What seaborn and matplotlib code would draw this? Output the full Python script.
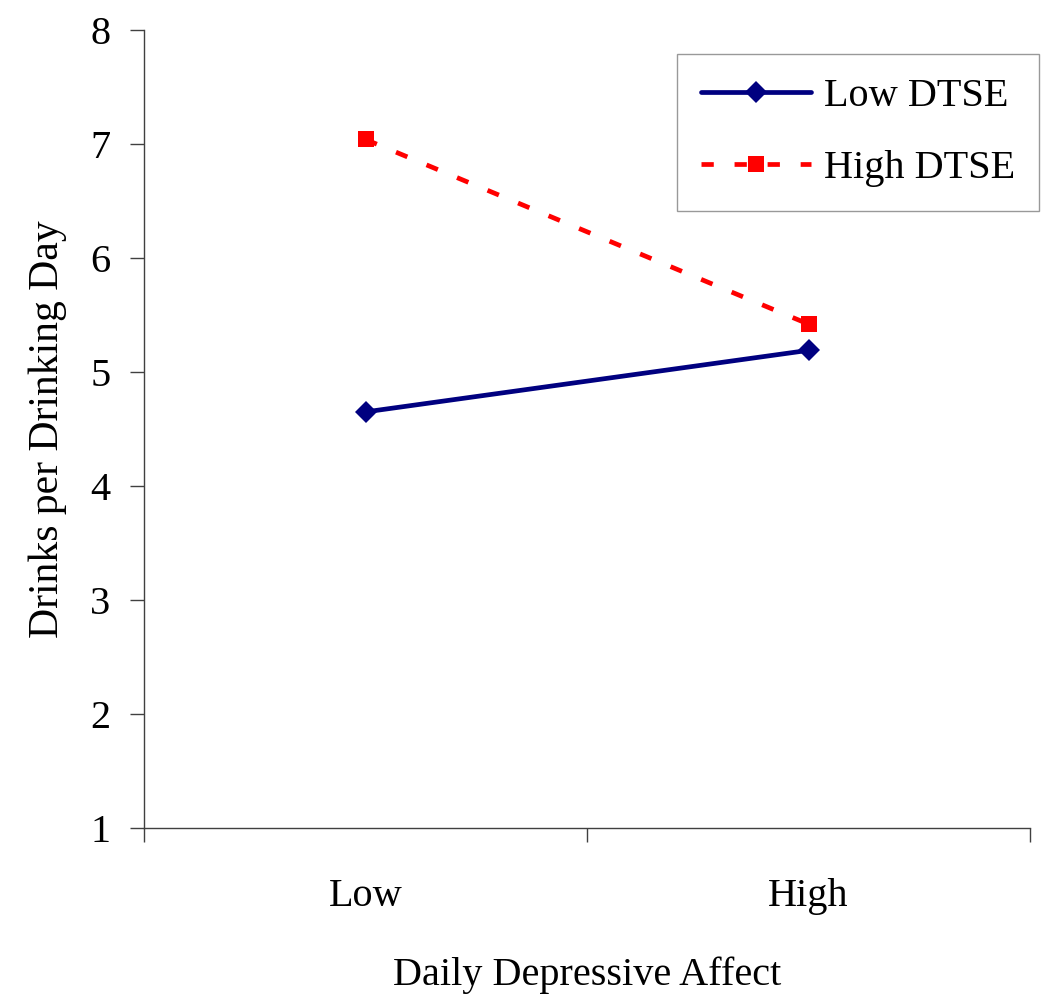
import matplotlib
matplotlib.use("Agg")
import matplotlib.pyplot as plt
import seaborn as sns
import pandas as pd

categories = ["Low", "High"]
low_dtse = [4.65, 5.19]
high_dtse = [7.04, 5.42]
series_names = ["Low DTSE", "High DTSE"]
y_ticks = [1, 2, 3, 4, 5, 6, 7, 8]

sns.set_theme(style="white")
plt.rcParams["font.family"] = ["Liberation Serif", "DejaVu Serif"]
plt.rcParams["text.color"] = "black"
plt.rcParams["axes.labelcolor"] = "black"
plt.rcParams["xtick.color"] = "black"
plt.rcParams["ytick.color"] = "black"

df_low = pd.DataFrame({"affect": categories, "drinks": low_dtse})
df_high = pd.DataFrame({"affect": categories, "drinks": high_dtse})

fig = plt.figure(figsize=(10.5, 10.06), dpi=100)
ax = fig.add_axes([144/1050, 1 - 828/1006, (1030-144)/1050, (828-30)/1006])

sns.lineplot(data=df_low, x="affect", y="drinks", ax=ax, color="#000080",
             lw=3.4, marker="D", markersize=11, markeredgewidth=0,
             label=series_names[0], sort=False)
sns.lineplot(data=df_high, x="affect", y="drinks", ax=ax, color="#FF0000",
             lw=3.4, marker="s", markersize=12, markeredgewidth=0,
             label=series_names[1], sort=False)
ax.lines[1].set_dashes((2.6, 4.4))

ax.set_xlim(-0.5, 1.5)
ax.set_ylim(1, 8)
ax.set_yticks(y_ticks)
ax.set_xticks([0, 1])
ax.set_xticklabels(categories)
ax.set_xticks([-0.5, 0.5, 1.5], minor=True)

for s in ["top", "right"]:
    ax.spines[s].set_visible(False)
for s in ["left", "bottom"]:
    ax.spines[s].set_color("#404040")
    ax.spines[s].set_linewidth(1)

ax.tick_params(axis="y", which="major", direction="out", length=10, width=1,
               color="#404040", left=True, pad=14, labelsize=29, labelcolor="black")
ax.tick_params(axis="x", which="major", length=0, pad=36, labelsize=29, labelcolor="black")
ax.tick_params(axis="x", which="minor", direction="out", length=10, width=1,
               color="#404040", bottom=True)

ax.set_ylabel("Drinks per Drinking Day", fontsize=30, labelpad=17, color="black")
ax.set_xlabel("Daily Depressive Affect", fontsize=29, labelpad=30, color="black")

leg = ax.legend(loc="upper right", bbox_to_anchor=(1039/1050, 1 - 54/1006),
                bbox_transform=fig.transFigure, fontsize=29, frameon=True,
                fancybox=False, edgecolor="#808080", handlelength=2.75,
                handletextpad=0.3, labelspacing=0.85, borderpad=0.6,
                borderaxespad=0)
leg.get_frame().set_linewidth(1)
for t in leg.get_texts():
    t.set_color("black")

fig.savefig("out.png", dpi=100, facecolor="white")
